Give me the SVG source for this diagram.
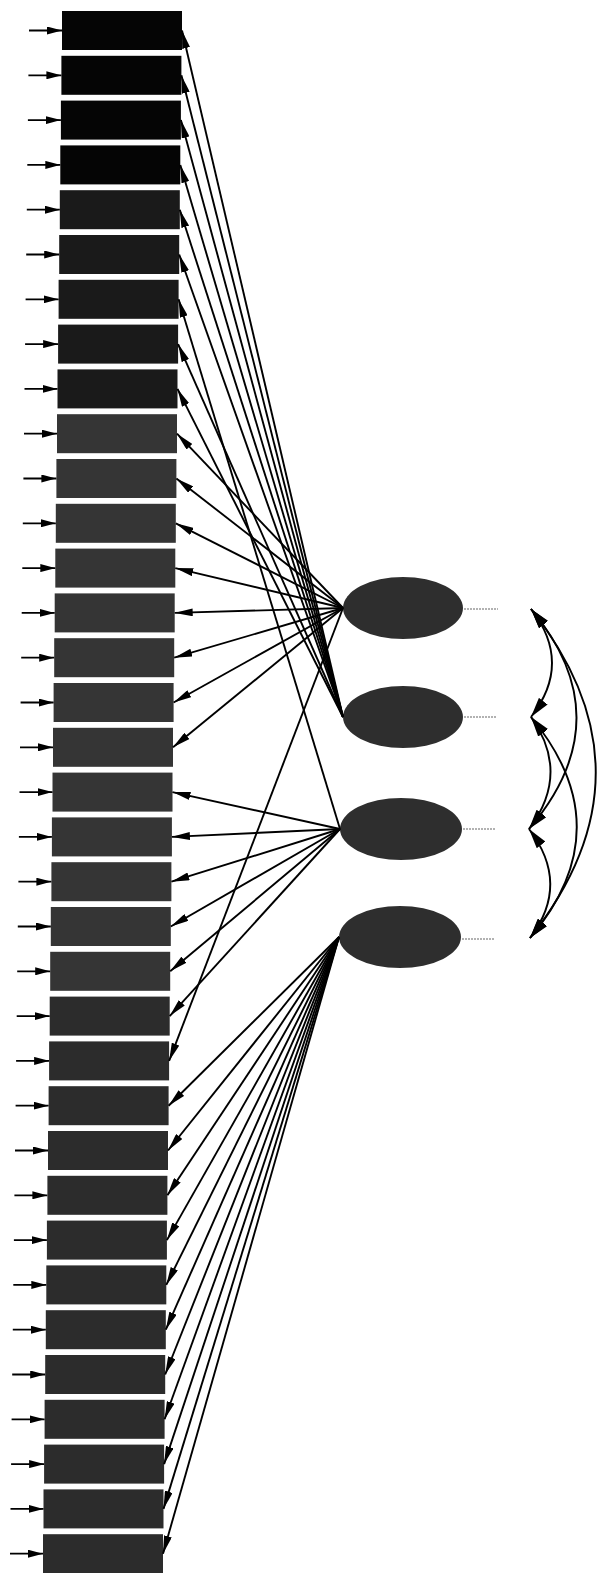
<svg xmlns="http://www.w3.org/2000/svg" width="597" height="1573" viewBox="0 0 597 1573">
<style>
.box{fill:#2c2c2c;}
.box.k{fill:#050505;}
.box.d{fill:#1a1a1a;}
.box.m{fill:#353535;}
.lat{fill:#2e2e2e;}
.ln{stroke:#000;stroke-width:1.9;fill:none;marker-end:url(#ah);}
.in{stroke:#000;stroke-width:1.8;fill:none;marker-end:url(#ai);}
.cv{stroke:#000;stroke-width:1.9;fill:none;marker-start:url(#ac);marker-end:url(#ac);}
.lab{stroke:#666;stroke-width:1.2;stroke-dasharray:2 1;}
</style>
<defs>
<marker id="ah" viewBox="0 0 18 8" refX="18" refY="4" markerWidth="18" markerHeight="8" markerUnits="userSpaceOnUse" orient="auto"><path d="M0,0 L18,4 L0,8 Z" fill="#000"/></marker>
<marker id="ai" viewBox="0 0 15 8" refX="15" refY="4" markerWidth="15" markerHeight="8" markerUnits="userSpaceOnUse" orient="auto"><path d="M0,0 L15,4 L0,8 Z" fill="#000"/></marker>
<marker id="ac" viewBox="0 0 20 11" refX="20" refY="5.5" markerWidth="20" markerHeight="11" markerUnits="userSpaceOnUse" orient="auto-start-reverse"><path d="M0,0 L20,5.5 L0,11 Z" fill="#000"/></marker>
</defs>
<g id="nodes">
<g id="x1"><rect class="box k" x="62" y="11" width="120" height="39"/></g>
<g id="x2"><rect class="box k" x="61.4" y="55.8" width="120" height="39"/></g>
<g id="x3"><rect class="box k" x="60.9" y="100.6" width="120" height="39"/></g>
<g id="x4"><rect class="box k" x="60.3" y="145.4" width="120" height="39"/></g>
<g id="x5"><rect class="box d" x="59.8" y="190.2" width="120" height="39"/></g>
<g id="x6"><rect class="box d" x="59.2" y="235" width="120" height="39"/></g>
<g id="x7"><rect class="box d" x="58.6" y="279.8" width="120" height="39"/></g>
<g id="x8"><rect class="box d" x="58.1" y="324.6" width="120" height="39"/></g>
<g id="x9"><rect class="box d" x="57.5" y="369.4" width="120" height="39"/></g>
<g id="x10"><rect class="box m" x="57" y="414.2" width="120" height="39"/></g>
<g id="x11"><rect class="box m" x="56.4" y="459" width="120" height="39"/></g>
<g id="x12"><rect class="box m" x="55.8" y="503.8" width="120" height="39"/></g>
<g id="x13"><rect class="box m" x="55.3" y="548.6" width="120" height="39"/></g>
<g id="x14"><rect class="box m" x="54.7" y="593.4" width="120" height="39"/></g>
<g id="x15"><rect class="box m" x="54.2" y="638.2" width="120" height="39"/></g>
<g id="x16"><rect class="box m" x="53.6" y="683" width="120" height="39"/></g>
<g id="x17"><rect class="box m" x="53" y="727.8" width="120" height="39"/></g>
<g id="x18"><rect class="box m" x="52.5" y="772.6" width="120" height="39"/></g>
<g id="x19"><rect class="box m" x="51.9" y="817.4" width="120" height="39"/></g>
<g id="x20"><rect class="box m" x="51.4" y="862.2" width="120" height="39"/></g>
<g id="x21"><rect class="box m" x="50.8" y="907" width="120" height="39"/></g>
<g id="x22"><rect class="box m" x="50.2" y="951.8" width="120" height="39"/></g>
<g id="x23"><rect class="box" x="49.7" y="996.6" width="120" height="39"/></g>
<g id="x24"><rect class="box" x="49.1" y="1041.4" width="120" height="39"/></g>
<g id="x25"><rect class="box" x="48.6" y="1086.2" width="120" height="39"/></g>
<g id="x26"><rect class="box" x="48" y="1131" width="120" height="39"/></g>
<g id="x27"><rect class="box" x="47.4" y="1175.8" width="120" height="39"/></g>
<g id="x28"><rect class="box" x="46.9" y="1220.6" width="120" height="39"/></g>
<g id="x29"><rect class="box" x="46.3" y="1265.4" width="120" height="39"/></g>
<g id="x30"><rect class="box" x="45.8" y="1310.2" width="120" height="39"/></g>
<g id="x31"><rect class="box" x="45.2" y="1355" width="120" height="39"/></g>
<g id="x32"><rect class="box" x="44.6" y="1399.8" width="120" height="39"/></g>
<g id="x33"><rect class="box" x="44.1" y="1444.6" width="120" height="39"/></g>
<g id="x34"><rect class="box" x="43.5" y="1489.4" width="120" height="39"/></g>
<g id="x35"><rect class="box" x="43" y="1534.2" width="120" height="39"/></g>
<g id="f1"><ellipse class="lat" cx="403" cy="608" rx="60" ry="31"/><line class="lab" x1="464" y1="609" x2="498" y2="609"/></g>
<g id="f2"><ellipse class="lat" cx="403" cy="717" rx="60" ry="31"/><line class="lab" x1="464" y1="717" x2="497" y2="717"/></g>
<g id="f3"><ellipse class="lat" cx="401" cy="829" rx="61" ry="31"/><line class="lab" x1="463" y1="829" x2="496" y2="829"/></g>
<g id="f4"><ellipse class="lat" cx="400" cy="937" rx="61" ry="31"/><line class="lab" x1="462" y1="939" x2="495" y2="939"/></g>
</g>
<g id="connectors">
<line class="in" x1="29" y1="30.5" x2="62" y2="30.5"/>
<line class="in" x1="28.4" y1="75.3" x2="61.4" y2="75.3"/>
<line class="in" x1="27.9" y1="120.1" x2="60.9" y2="120.1"/>
<line class="in" x1="27.3" y1="164.9" x2="60.3" y2="164.9"/>
<line class="in" x1="26.8" y1="209.7" x2="59.8" y2="209.7"/>
<line class="in" x1="26.2" y1="254.5" x2="59.2" y2="254.5"/>
<line class="in" x1="25.6" y1="299.3" x2="58.6" y2="299.3"/>
<line class="in" x1="25.1" y1="344.1" x2="58.1" y2="344.1"/>
<line class="in" x1="24.5" y1="388.9" x2="57.5" y2="388.9"/>
<line class="in" x1="24" y1="433.7" x2="57" y2="433.7"/>
<line class="in" x1="23.4" y1="478.5" x2="56.4" y2="478.5"/>
<line class="in" x1="22.8" y1="523.3" x2="55.8" y2="523.3"/>
<line class="in" x1="22.3" y1="568.1" x2="55.3" y2="568.1"/>
<line class="in" x1="21.7" y1="612.9" x2="54.7" y2="612.9"/>
<line class="in" x1="21.2" y1="657.7" x2="54.2" y2="657.7"/>
<line class="in" x1="20.6" y1="702.5" x2="53.6" y2="702.5"/>
<line class="in" x1="20" y1="747.3" x2="53" y2="747.3"/>
<line class="in" x1="19.5" y1="792.1" x2="52.5" y2="792.1"/>
<line class="in" x1="18.9" y1="836.9" x2="51.9" y2="836.9"/>
<line class="in" x1="18.4" y1="881.7" x2="51.4" y2="881.7"/>
<line class="in" x1="17.8" y1="926.5" x2="50.8" y2="926.5"/>
<line class="in" x1="17.2" y1="971.3" x2="50.2" y2="971.3"/>
<line class="in" x1="16.7" y1="1016.1" x2="49.7" y2="1016.1"/>
<line class="in" x1="16.1" y1="1060.9" x2="49.1" y2="1060.9"/>
<line class="in" x1="15.6" y1="1105.7" x2="48.6" y2="1105.7"/>
<line class="in" x1="15" y1="1150.5" x2="48" y2="1150.5"/>
<line class="in" x1="14.4" y1="1195.3" x2="47.4" y2="1195.3"/>
<line class="in" x1="13.9" y1="1240.1" x2="46.9" y2="1240.1"/>
<line class="in" x1="13.3" y1="1284.9" x2="46.3" y2="1284.9"/>
<line class="in" x1="12.8" y1="1329.7" x2="45.8" y2="1329.7"/>
<line class="in" x1="12.2" y1="1374.5" x2="45.2" y2="1374.5"/>
<line class="in" x1="11.6" y1="1419.3" x2="44.6" y2="1419.3"/>
<line class="in" x1="11.1" y1="1464.1" x2="44.1" y2="1464.1"/>
<line class="in" x1="10.5" y1="1508.9" x2="43.5" y2="1508.9"/>
<line class="in" x1="10" y1="1553.7" x2="43" y2="1553.7"/>
<line class="ln" x1="343" y1="717" x2="182" y2="30.5"/>
<line class="ln" x1="343" y1="717" x2="181.4" y2="75.3"/>
<line class="ln" x1="343" y1="717" x2="180.9" y2="120.1"/>
<line class="ln" x1="343" y1="717" x2="180.3" y2="164.9"/>
<line class="ln" x1="343" y1="717" x2="179.8" y2="209.7"/>
<line class="ln" x1="343" y1="717" x2="179.2" y2="254.5"/>
<line class="ln" x1="340" y1="829" x2="178.6" y2="299.3"/>
<line class="ln" x1="343" y1="717" x2="178.1" y2="344.1"/>
<line class="ln" x1="343" y1="717" x2="177.5" y2="388.9"/>
<line class="ln" x1="343" y1="608" x2="177" y2="433.7"/>
<line class="ln" x1="343" y1="608" x2="176.4" y2="478.5"/>
<line class="ln" x1="343" y1="608" x2="175.8" y2="523.3"/>
<line class="ln" x1="343" y1="608" x2="175.3" y2="568.1"/>
<line class="ln" x1="343" y1="608" x2="174.7" y2="612.9"/>
<line class="ln" x1="343" y1="608" x2="174.2" y2="657.7"/>
<line class="ln" x1="343" y1="608" x2="173.6" y2="702.5"/>
<line class="ln" x1="343" y1="608" x2="173" y2="747.3"/>
<line class="ln" x1="340" y1="829" x2="172.5" y2="792.1"/>
<line class="ln" x1="340" y1="829" x2="171.9" y2="836.9"/>
<line class="ln" x1="340" y1="829" x2="171.4" y2="881.7"/>
<line class="ln" x1="340" y1="829" x2="170.8" y2="926.5"/>
<line class="ln" x1="340" y1="829" x2="170.2" y2="971.3"/>
<line class="ln" x1="340" y1="829" x2="169.7" y2="1016.1"/>
<line class="ln" x1="343" y1="608" x2="169.1" y2="1060.9"/>
<line class="ln" x1="339" y1="937" x2="168.6" y2="1105.7"/>
<line class="ln" x1="339" y1="937" x2="168" y2="1150.5"/>
<line class="ln" x1="339" y1="937" x2="167.4" y2="1195.3"/>
<line class="ln" x1="339" y1="937" x2="166.9" y2="1240.1"/>
<line class="ln" x1="339" y1="937" x2="166.3" y2="1284.9"/>
<line class="ln" x1="339" y1="937" x2="165.8" y2="1329.7"/>
<line class="ln" x1="339" y1="937" x2="165.2" y2="1374.5"/>
<line class="ln" x1="339" y1="937" x2="164.6" y2="1419.3"/>
<line class="ln" x1="339" y1="937" x2="164.1" y2="1464.1"/>
<line class="ln" x1="339" y1="937" x2="163.5" y2="1508.9"/>
<line class="ln" x1="339" y1="937" x2="163" y2="1553.7"/>
<path class="cv" d="M531,609 Q573,663 531,717"/>
<path class="cv" d="M531,717 Q571,773 529,829"/>
<path class="cv" d="M529,829 Q571,884 530,938"/>
<path class="cv" d="M531,609 Q623,719 529,829"/>
<path class="cv" d="M531,717 Q623,828 530,938"/>
<path class="cv" d="M531,609 Q661,773 530,938"/>
</g>
</svg>
